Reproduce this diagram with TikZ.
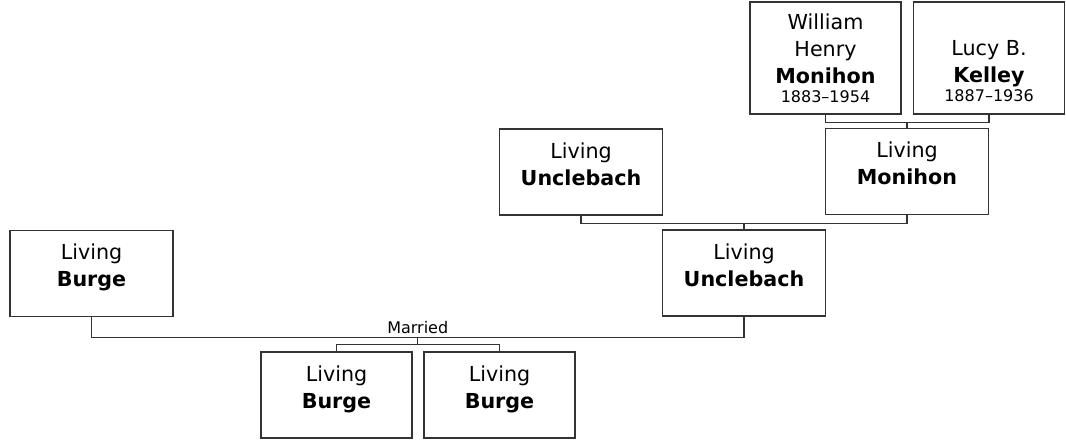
\documentclass[tikz,border=0pt]{standalone}
\usepackage{fontspec}
\setmainfont{DejaVu Sans}
\usepackage{tikz}
\usetikzlibrary{positioning,calc}
\definecolor{boxline}{HTML}{333333}
\newcommand{\datefont}{\fontsize{12}{14}\selectfont}
\newcommand{\living}[1]{Living\\\textbf{#1}\\[-7.75pt]\mbox{}}
\tikzset{
  person/.style={rectangle,draw=boxline,line width=0.9pt,align=center,inner sep=2pt,
    font=\fontsize{15.5}{20.25}\selectfont,minimum width=122.25pt,minimum height=64.5pt},
  narrow/.style={person,minimum width=113.25pt},
  elder/.style={narrow,minimum height=84pt},
  link/.style={draw=boxline,line width=0.9pt},
  married/.style={font=\datefont,inner sep=2pt,anchor=south}
}
\begin{document}
\begin{tikzpicture}[x=0.75pt,y=-0.75pt]
  \useasboundingbox (0,0) rectangle (1066,440);
  \node[elder] (william) at (825.5,58) {William\\Henry\\\textbf{Monihon}\\[-6pt]{\datefont 1883--1954}};
  \node[elder] (lucy) at (989,58) {\vphantom{W}\\Lucy B.\\\textbf{Kelley}\\[-6pt]{\datefont 1887--1936}};
  \node[person] (monihon) at (907,171.5) {\living{Monihon}};
  \node[person] (uncleA) at (581,172) {\living{Unclebach}};
  \node[person] (uncleB) at (744,273) {\living{Unclebach}};
  \node[person] (burgeL) at (91.5,273.5) {\living{Burge}};
  \node[narrow] (childA) at (336.5,395) {\living{Burge}};
  \node[narrow] (childB) at (499.5,395) {\living{Burge}};
  \draw[link] (william.south) -- ++(0,8) coordinate (wl) -| (lucy.south);
  \draw[link] (wl -| monihon.north) -- (monihon.north);
  \draw[link] (uncleA.south) -- ++(0,8) coordinate (ul) -| (monihon.south);
  \draw[link] (ul -| uncleB.north) -- (uncleB.north);
  \draw[link] (burgeL.south) -- ++(0,20) -| (uncleB.south) coordinate[pos=0.25] (wed);
  \node[married] (marr) at (wed) {Married};
  \draw[link] (wed) -- ++(0,7) coordinate (kids);
  \draw[link] (childA.north) |- (kids) -| (childB.north);
\end{tikzpicture}
\end{document}
